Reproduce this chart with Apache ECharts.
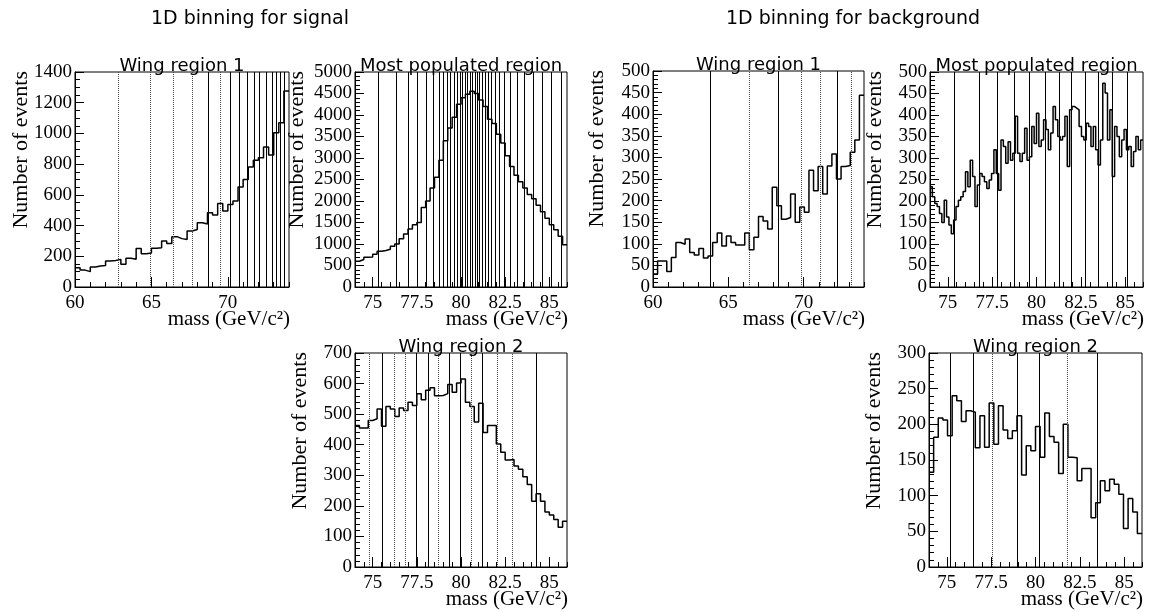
<!DOCTYPE html>
<html><head><meta charset="utf-8">
<script src="https://cdn.jsdelivr.net/npm/echarts@6/dist/echarts.min.js"></script>
<style>html,body{margin:0;padding:0;background:#fff}#c{width:1150px;height:612px}</style>
</head><body><div id="c"></div>
<script>
// ---------------- data ----------------
const wingXRange = [60, 74];
const peakXRange = [74, 86];
const wingXTicks = [60, 65, 70];
const peakXTicks = [75, 77.5, 80, 82.5, 85];

// signal, wing region 1
const sigWing1Counts = [126,110,100,130,137,140,169,172,180,148,187,180,250,217,222,252,255,300,284,328,315,310,365,375,419,410,484,469,543,495,538,560,651,700,781,825,842,911,859,1005,1070,1276];
const sigWing1Bounds = [62.80,64.92,66.41,67.66,68.69,69.52,70.15,70.72,71.27,71.71,72.08,72.52,72.91,73.19,73.46,73.72];
const sigWing1Dotted = [0,1,2,3,5];

// signal, most populated region
const sigPeakCounts = [600,640,690,700,760,830,850,880,950,1000,1120,1230,1350,1450,1500,1850,2000,2300,2550,2950,3400,3700,3950,4250,4400,4480,4550,4500,4350,4200,3900,3800,3550,3350,3050,2800,2600,2450,2300,2150,2050,1900,1750,1600,1450,1330,1180,980];
const sigPeakBounds = [75.32,76.32,77.01,77.54,78.05,78.43,78.75,78.99,79.22,79.40,79.59,79.76,79.93,80.08,80.23,80.37,80.50,80.63,80.78,80.91,81.06,81.21,81.38,81.55,81.74,81.95,82.19,82.47,82.79,83.17,83.60,84.08,84.58,85.11,85.68];
const sigPeakDotted = [];

// signal, wing region 2
const sigWing2Counts = [463,455,455,479,485,517,460,525,517,492,520,512,539,528,567,547,578,586,560,561,567,597,572,602,615,539,525,474,536,440,463,463,402,375,350,352,330,320,295,270,215,240,215,180,170,155,130,150];
const sigWing2Bounds = [74.78,75.53,76.20,76.86,77.48,78.13,78.71,79.32,79.94,80.57,81.21,82.03,82.92,84.26];
const sigWing2Dotted = [0,2,3,6,9,11,12];

// background, wing region 1
const bgWing1Counts = [30,60,60,36,68,103,99,111,80,74,89,67,72,103,125,95,118,103,97,97,125,86,115,163,153,134,231,188,157,161,215,150,185,173,270,223,279,215,280,308,250,279,281,312,340,444];
const bgWing1Bounds = [63.77,66.36,68.31,69.84,71.09,72.24,73.13];
const bgWing1Dotted = [1,3,4,6];

// background, most populated region
const bgPeakCounts = [233,210,194,187,171,150,202,163,144,124,156,187,202,210,222,268,233,295,257,187,237,264,257,245,229,249,264,319,264,225,342,327,288,338,295,311,397,311,292,311,369,295,303,373,334,404,327,342,389,366,319,358,420,389,350,342,350,397,280,412,420,416,412,373,350,342,381,373,327,373,319,284,342,474,451,342,412,257,373,350,303,342,366,319,327,280,315,350,319,342];
const bgPeakBounds = [75.36,76.77,77.77,78.75,79.60,80.47,81.26,81.94,82.73,83.49,84.28,85.09];
const bgPeakDotted = [];

// background, wing region 2
const bgWing2Counts = [133,182,209,206,184,240,233,204,219,217,167,212,168,230,172,226,192,180,191,212,129,170,163,197,154,216,183,175,131,200,154,153,121,138,138,69,90,121,107,123,116,102,54,96,77,47];
const bgWing2Bounds = [75.21,76.47,77.58,78.99,80.20,81.80,83.50];
const bgWing2Dotted = [2,5];

// ---------------- layout ----------------
const panels = [
  {g:{left:75,top:72,width:214,height:215}, range:wingXRange, ticks:wingXTicks, minor:1, counts:sigWing1Counts, bounds:sigWing1Bounds, dotted:sigWing1Dotted, yMax:1400, yInt:200, ySplit:4, title:'Wing region 1', ytx:21},
  {g:{left:355,top:72,width:212,height:215}, range:peakXRange, ticks:peakXTicks, minor:0.5, counts:sigPeakCounts, bounds:sigPeakBounds, dotted:sigPeakDotted, yMax:5000, yInt:500, ySplit:5, title:'Most populated region', ytx:297},
  {g:{left:653,top:71,width:211,height:216}, range:wingXRange, ticks:wingXTicks, minor:1, counts:bgWing1Counts, bounds:bgWing1Bounds, dotted:bgWing1Dotted, yMax:500, yInt:50, ySplit:5, title:'Wing region 1', ytx:597},
  {g:{left:930,top:72,width:213,height:215}, range:peakXRange, ticks:peakXTicks, minor:0.5, counts:bgPeakCounts, bounds:bgPeakBounds, dotted:bgPeakDotted, yMax:500, yInt:50, ySplit:5, title:'Most populated region', ytx:875},
  {g:{left:355,top:353,width:212,height:214}, range:peakXRange, ticks:peakXTicks, minor:0.5, counts:sigWing2Counts, bounds:sigWing2Bounds, dotted:sigWing2Dotted, yMax:700, yInt:100, ySplit:5, title:'Wing region 2', ytx:300},
  {g:{left:929,top:353,width:213,height:214}, range:peakXRange, ticks:peakXTicks, minor:0.5, counts:bgWing2Counts, bounds:bgWing2Bounds, dotted:bgWing2Dotted, yMax:300, yInt:50, ySplit:5, title:'Wing region 2', ytx:874}
];

const SERIF = '"Liberation Serif", "Times New Roman", serif';
const SANS = '"DejaVu Sans", sans-serif';

const grid = [], xAxis = [], yAxis = [], series = [], graphic = [];

function histPoints(range, counts) {
  const n = counts.length, w = (range[1] - range[0]) / n;
  const pts = counts.map((v, i) => [range[0] + i * w, v]);
  pts.push([range[1], counts[n - 1]]);
  return pts;
}

panels.forEach((p, i) => {
  grid.push(Object.assign({show:true, borderColor:'#000', borderWidth:1, backgroundColor:'transparent', containLabel:false}, p.g));
  // minor ticks axis
  xAxis.push({type:'value', gridIndex:i, position:'bottom', offset:0, min:p.range[0], max:p.range[1], interval:p.minor,
    axisLine:{show:true, onZero:false, lineStyle:{color:'#000', width:1}},
    axisTick:{show:true, inside:true, length:5, lineStyle:{color:'#000'}},
    axisLabel:{show:false}, splitLine:{show:false}});
  // major ticks + labels axis
  xAxis.push({type:'value', gridIndex:i, position:'bottom', offset:0, min:p.range[0], max:p.range[1],
    axisLine:{show:false, onZero:false},
    axisTick:{show:true, inside:true, length:10, customValues:p.ticks, lineStyle:{color:'#000'}},
    axisLabel:{show:true, customValues:p.ticks, margin:7, color:'#000', fontFamily:SERIF, fontSize:19},
    splitLine:{show:false}});
  yAxis.push({type:'value', gridIndex:i, min:0, max:p.yMax, interval:p.yInt,
    axisLine:{show:true, lineStyle:{color:'#000', width:1}},
    axisTick:{show:true, inside:true, length:9, lineStyle:{color:'#000'}},
    minorTick:{show:true, splitNumber:p.ySplit, length:5, lineStyle:{color:'#000'}},
    axisLabel:{margin:3, color:'#000', fontFamily:SERIF, fontSize:19, formatter:(v) => String(v)},
    splitLine:{show:false}, minorSplitLine:{show:false}});
  series.push({type:'line', step:'end', xAxisIndex:2*i, yAxisIndex:i, symbol:'none',
    data:histPoints(p.range, p.counts), lineStyle:{color:'#000', width:1.5}, animation:false, z:3,
    markLine:{silent:true, symbol:['none','none'], animation:false, label:{show:false},
      lineStyle:{color:'#000', width:1, type:'solid'},
      data:p.bounds.map((b, k) => ({xAxis:b, lineStyle: p.dotted.indexOf(k) >= 0 ? {type:'dotted', color:'#444', width:1} : {type:'solid', color:'#000', width:1}}))}
  });
  const cx = p.g.left + p.g.width / 2;
  graphic.push({type:'text', x:cx, y:p.g.top + 3, z:10, style:{text:p.title, font:'18px ' + SANS, fill:'#000', textAlign:'center', textVerticalAlign:'bottom'}});
  graphic.push({type:'text', x:p.ytx, y:p.g.top - 1, rotation:Math.PI/2, style:{text:'Number of events', font:'22px ' + SERIF, fill:'#000', textAlign:'right', textVerticalAlign:'middle'}});
  graphic.push({type:'text', x:p.g.left + p.g.width + 1, y:p.g.top + p.g.height + 32, style:{text:'mass (GeV/c\u00B2)', font:'21px ' + SERIF, fill:'#000', textAlign:'right', textVerticalAlign:'middle'}});
});

graphic.push({type:'text', x:250, y:19, style:{text:'1D binning for signal', font:'19px ' + SANS, fill:'#000', textAlign:'center', textVerticalAlign:'middle'}});
graphic.push({type:'text', x:853, y:19, style:{text:'1D binning for background', font:'19px ' + SANS, fill:'#000', textAlign:'center', textVerticalAlign:'middle'}});

const chart = echarts.init(document.getElementById('c'), null, {renderer:'canvas'});
chart.setOption({animation:false, backgroundColor:'#fff', grid, xAxis, yAxis, series, graphic});
</script>
</body></html>
